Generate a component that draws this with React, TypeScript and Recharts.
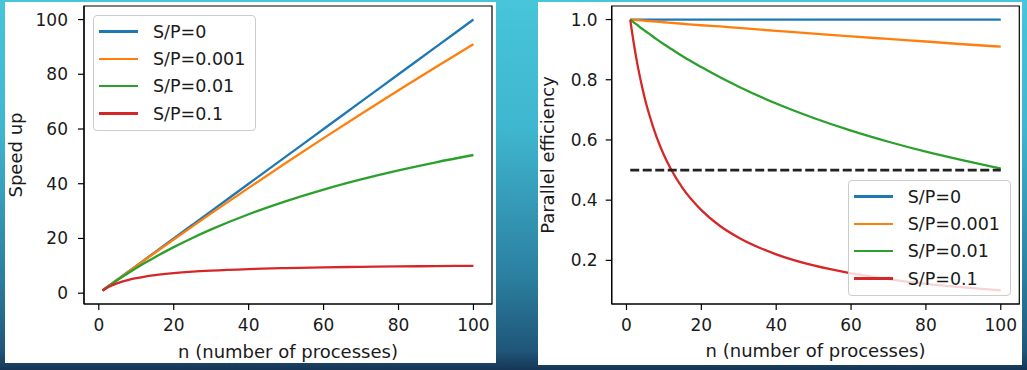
import React from "react";
import {
  Legend,
  Line,
  LineChart,
  ReferenceArea,
  XAxis,
  YAxis,
} from "recharts";

const processCounts = [1, 2, 3, 4, 5, 6, 8, 10, 12, 15, 20, 25, 30, 40, 50, 60, 70, 80, 90, 100];

const seriesNames = ["S/P=0", "S/P=0.001", "S/P=0.01", "S/P=0.1"];
const seriesColors = ["#1f77b4", "#ff7f0e", "#2ca02c", "#d62728"];

const speedup0 = [1, 2, 3, 4, 5, 6, 8, 10, 12, 15, 20, 25, 30, 40, 50, 60, 70, 80, 90, 100];
const speedup001 = [1.0, 1.998, 2.994, 3.988, 4.98, 5.97, 7.944, 9.91, 11.87, 14.79, 19.63, 24.41, 29.16, 38.5, 47.67, 56.66, 65.49, 74.15, 82.65, 91.0];
const speedup01 = [1.0, 1.98, 2.94, 3.88, 4.81, 5.72, 7.48, 9.18, 10.82, 13.17, 16.83, 20.2, 23.31, 28.86, 33.67, 37.88, 41.59, 44.89, 47.84, 50.5];
const speedup1 = [1.0, 1.83, 2.54, 3.14, 3.67, 4.13, 4.89, 5.5, 6.0, 6.6, 7.33, 7.86, 8.25, 8.8, 9.17, 9.43, 9.63, 9.78, 9.9, 10.0];

const efficiency0 = [1, 1, 1, 1, 1, 1, 1, 1, 1, 1, 1, 1, 1, 1, 1, 1, 1, 1, 1, 1];
const efficiency001 = [1.0, 0.999, 0.998, 0.997, 0.996, 0.995, 0.993, 0.991, 0.989, 0.986, 0.981, 0.977, 0.972, 0.9625, 0.953, 0.944, 0.9355, 0.927, 0.918, 0.91];
const efficiency01 = [1.0, 0.99, 0.981, 0.971, 0.962, 0.953, 0.935, 0.918, 0.902, 0.878, 0.842, 0.808, 0.777, 0.721, 0.673, 0.631, 0.594, 0.561, 0.532, 0.505];
const efficiency1 = [1.0, 0.917, 0.846, 0.786, 0.733, 0.688, 0.611, 0.55, 0.5, 0.44, 0.367, 0.314, 0.275, 0.22, 0.183, 0.157, 0.138, 0.122, 0.11, 0.1];
const efficiencyThreshold = 0.5;

const xTicks = [0, 20, 40, 60, 80, 100];
const speedupTicks = [0, 20, 40, 60, 80, 100];
const efficiencyTicks = [0.2, 0.4, 0.6, 0.8, 1.0];

const xDomain: [number, number] = [-3.95, 104.95];
const speedupDomain: [number, number] = [-3.95, 104.95];
const efficiencyDomain: [number, number] = [0.055, 1.045];

const speedupData = processCounts.map((n, i) => ({
  n,
  s0: speedup0[i],
  s1: speedup001[i],
  s2: speedup01[i],
  s3: speedup1[i],
}));

const efficiencyData = processCounts.map((n, i) => ({
  n,
  s0: efficiency0[i],
  s1: efficiency001[i],
  s2: efficiency01[i],
  s3: efficiency1[i],
  half: efficiencyThreshold,
}));

const FONT = "DejaVu Sans";
const TEXT = "#1a1a1a";
const keys = ["s0", "s1", "s2", "s3"];

const renderLegend = (props: any) => (
  <div
    style={{
      width: 163,
      height: 116,
      boxSizing: "border-box",
      background: "rgba(255,255,255,0.8)",
      border: "1px solid #cccccc",
      borderRadius: 4,
      padding: "2px 0 0 5px",
      fontFamily: FONT,
      fontSize: 17.5,
      color: TEXT,
    }}
  >
    {(props.payload || [])
      .filter((p: any) => p.type !== "none" && seriesNames.includes(p.value))
      .map((p: any) => (
        <div key={p.value} style={{ display: "flex", alignItems: "center", height: 27.3 }}>
          <span style={{ display: "inline-block", width: 39, height: 2.5, background: p.color, marginRight: 15 }} />
          <span>{p.value}</span>
        </div>
      ))}
  </div>
);

const tickStyle = { fill: TEXT, fontSize: 17, fontFamily: FONT };
const axisStroke = { stroke: "#000", strokeWidth: 1.2 };
const labelFont = { fill: TEXT, fontSize: 18, fontFamily: FONT };

export default function App() {
  return (
    <div
      style={{
        position: "absolute",
        left: 0,
        top: 0,
        width: 1027,
        height: 370,
        overflow: "hidden",
        background: "linear-gradient(to bottom, #47c5d9 0%, #3fb6cf 35%, #2b7f9f 75%, #1f5578 95%, #163656 100%)",
      }}
    >
      <div style={{ position: "absolute", left: 5, top: 2, width: 491, height: 361, background: "#fff" }}>
        <LineChart width={491} height={361} data={speedupData} margin={{ top: 4, right: 4, left: 0, bottom: 0 }}>
          <XAxis
            dataKey="n"
            type="number"
            domain={xDomain}
            ticks={xTicks}
            allowDataOverflow
            height={59}
            tickSize={6}
            tickMargin={9}
            tick={tickStyle}
            axisLine={axisStroke}
            tickLine={axisStroke}
            label={{ value: "n (number of processes)", position: "insideBottom", offset: 5, ...labelFont }}
          />
          <YAxis
            type="number"
            domain={speedupDomain}
            ticks={speedupTicks}
            allowDataOverflow
            width={79}
            tickSize={6}
            tickMargin={10}
            tick={tickStyle}
            axisLine={axisStroke}
            tickLine={axisStroke}
            label={{ value: "Speed up", angle: -90, position: "insideLeft", offset: 11, ...labelFont, style: { textAnchor: "middle" } }}
          />
          <ReferenceArea x1={xDomain[0]} x2={xDomain[1]} y1={speedupDomain[0]} y2={speedupDomain[1]} fill="none" fillOpacity={0} stroke="#000" strokeWidth={1.2} ifOverflow="visible" />
          {keys.map((k, i) => (
            <Line key={k} dataKey={k} name={seriesNames[i]} type="monotone" stroke={seriesColors[i]} strokeWidth={2.3} dot={false} isAnimationActive={false} />
          ))}
          <Legend content={renderLegend} layout="horizontal" verticalAlign="middle" align="center" wrapperStyle={{ left: 88, top: 13, width: "auto" }} />
        </LineChart>
      </div>

      <div style={{ position: "absolute", left: 538, top: 2, width: 484, height: 363, background: "#fff" }}>
        <LineChart width={484} height={363} data={efficiencyData} margin={{ top: 4, right: 2.7, left: 0, bottom: 0 }}>
          <XAxis
            dataKey="n"
            type="number"
            domain={xDomain}
            ticks={xTicks}
            allowDataOverflow
            height={61}
            tickSize={6}
            tickMargin={9}
            tick={tickStyle}
            axisLine={axisStroke}
            tickLine={axisStroke}
            label={{ value: "n (number of processes)", position: "insideBottom", offset: 8, ...labelFont }}
          />
          <YAxis
            type="number"
            domain={efficiencyDomain}
            ticks={efficiencyTicks}
            allowDataOverflow
            width={73.7}
            tickSize={6}
            tickMargin={8}
            tick={tickStyle}
            tickFormatter={(v: number) => v.toFixed(1)}
            axisLine={axisStroke}
            tickLine={axisStroke}
            label={{ value: "Parallel efficiency", angle: -90, position: "insideLeft", offset: 10, ...labelFont, style: { textAnchor: "middle" } }}
          />
          <ReferenceArea x1={xDomain[0]} x2={xDomain[1]} y1={efficiencyDomain[0]} y2={efficiencyDomain[1]} fill="none" fillOpacity={0} stroke="#000" strokeWidth={1.2} ifOverflow="visible" />
          {keys.map((k, i) => (
            <Line key={k} dataKey={k} name={seriesNames[i]} type="monotone" stroke={seriesColors[i]} strokeWidth={2.3} dot={false} isAnimationActive={false} />
          ))}
          <Line dataKey="half" name="half" type="linear" stroke="#222" strokeWidth={2.8} strokeDasharray="9 3.5" dot={false} legendType="none" isAnimationActive={false} />
          <Legend content={renderLegend} layout="horizontal" verticalAlign="middle" align="center" wrapperStyle={{ left: 309.7, top: 178, width: "auto" }} />
        </LineChart>
      </div>
    </div>
  );
}
